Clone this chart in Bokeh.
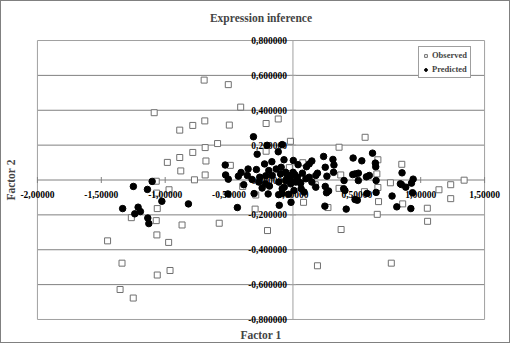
import math
from bokeh.plotting import figure
from bokeh.models import Range1d, LinearAxis, FixedTicker, LabelSet, ColumnDataSource
from bokeh.embed import file_html
from bokeh.resources import INLINE

title_text = "Expression inference"
x_label = "Factor 1"
y_label = "Factor 2"
series_names = ["Observed", "Predicted"]

x_ticks = [-2.0, -1.5, -1.0, -0.5, 0.0, 0.5, 1.0, 1.5]
x_tick_labels = ["-2,00000", "-1,50000", "-1,00000", "-0,50000", "0,00000", "0,50000", "1,00000", "1,50000"]
y_ticks = [-0.8, -0.6, -0.4, -0.2, 0.0, 0.2, 0.4, 0.6, 0.8]
y_tick_labels = ["-0,800000", "-0,600000", "-0,400000", "-0,200000", "0,000000", "0,200000", "0,400000", "0,600000", "0,800000"]

obs_x = [-0.695, -0.506, -0.409, -1.086, -0.115, -0.210, -0.690, -0.498, -0.784, -0.886,
         -0.020, 0.565, -0.590, -0.687, 0.361, -0.210, -0.784, -0.886, -0.983, -0.681,
         -0.490, 0.665, 0.852, -0.878, -0.687, -0.028, 0.077, 0.374, 0.657, -1.070,
         -0.771, 0.763, 1.340, 1.235, 1.143, -0.970, -1.067, -0.393, -0.291, 0.175,
         0.361, 0.560, 0.665, 1.235, 0.083, 0.670, 0.859, 0.274, 1.052, -1.062,
         -0.296, 0.660, -1.265, -1.070, 1.054, -0.868, -0.577, -0.199, 0.377, -1.065,
         -1.451, -0.973, -1.338, 0.770, 0.192, -0.962, -1.062, -1.353, -1.250]
obs_y = [0.573, 0.547, 0.418, 0.386, 0.350, 0.324, 0.339, 0.315, 0.313, 0.286,
         0.222, 0.245, 0.209, 0.186, 0.188, 0.165, 0.158, 0.129, 0.101, 0.109,
         0.084, 0.116, 0.090, 0.052, 0.029, 0.071, 0.099, 0.029, 0.035, -0.007,
         0.001, -0.016, -0.001, -0.027, -0.056, -0.056, -0.075, -0.037, -0.086, -0.027,
         -0.048, -0.067, -0.043, -0.107, -0.128, -0.124, -0.137, -0.158, -0.162, -0.164,
         -0.167, -0.197, -0.216, -0.233, -0.237, -0.258, -0.248, -0.290, -0.284, -0.315,
         -0.349, -0.358, -0.477, -0.477, -0.492, -0.519, -0.545, -0.628, -0.677]

pred_x = [-1.249, -1.102, -1.139, -1.026, -1.333, -1.212, -1.238, -1.194, -1.136, -1.128, -0.818,
          -0.309, -0.202, -0.084, -0.280, -0.115, 0.623, 0.240, 0.471, 0.539, 0.313,
          -0.070, 0.003, -0.165, -0.222, -0.530, 0.645, 0.648, 0.321, 0.148, 0.127,
          0.106, 0.040, -0.092, -0.131, -0.189, -0.286, -0.351, -0.406, -0.427, -0.527,
          -0.506, -0.357, -0.320, -0.260, -0.213, -0.162, -0.097, -0.057, -0.031, 0.014,
          0.035, 0.074, 0.127, 0.179, 0.192, 0.253, 0.266, 0.318, 0.486, 0.512,
          0.575, 0.598, 0.400, 0.512, 0.651, 0.854, 0.941, 0.928, 0.883, 0.849,
          0.841, 0.936, 0.923, 0.813, 0.776, 0.651, 0.580, 0.504, 0.486, 0.417,
          0.407, 0.397, 0.279, 0.263, 0.253, 0.250, 0.087, 0.064, 0.061, 0.148,
          -0.015, -0.033, -0.084, -0.112, -0.194, -0.241, -0.304, -0.385, -0.435, -0.509,
          -0.107, -0.184, -0.068, -0.018, 0.022, -0.057, -0.110, -0.215, -0.267, -0.084,
          0.008, 0.179, 0.468, -0.044, -0.018, 0.001, 0.048, 0.101]
pred_y = [-0.037, -0.008, -0.054, -0.122, -0.164, -0.156, -0.194, -0.181, -0.218, -0.250, -0.137,
          0.248, 0.199, 0.203, 0.148, 0.162, 0.154, 0.135, 0.126, 0.110, 0.118,
          0.116, 0.112, 0.105, 0.092, 0.086, 0.097, 0.076, 0.086, 0.109, 0.092,
          0.076, 0.088, 0.073, 0.063, 0.054, 0.060, 0.063, 0.043, 0.022, 0.029,
          0.005, 0.026, 0.003, 0.016, 0.024, 0.026, 0.035, 0.044, 0.026, 0.031,
          0.016, 0.039, 0.016, 0.026, 0.039, 0.073, 0.022, 0.044, 0.035, 0.039,
          0.018, 0.026, -0.003, -0.003, -0.003, 0.041, 0.005, -0.018, -0.041, -0.026,
          -0.022, -0.073, -0.164, -0.154, -0.092, -0.071, -0.077, -0.116, -0.112, -0.167,
          -0.060, -0.050, -0.063, -0.073, -0.037, -0.150, -0.069, -0.050, -0.018, -0.012,
          -0.128, -0.082, -0.078, -0.084, -0.080, -0.046, -0.078, -0.027, -0.158, -0.080,
          -0.145, -0.035, -0.041, -0.022, -0.012, -0.003, -0.012, -0.022, -0.012, -0.050,
          -0.060, -0.041, 0.031, 0.016, 0.007, 0.044, -0.012, 0.007]

FONT = "Liberation Serif"

# data region plus a little padding so edge tick labels are not clipped
xpad = 0.156
ypad = 0.046
W, H = 510, 343
p = figure(width=W, height=H, output_backend="svg", toolbar_location=None,
           x_range=Range1d(x_ticks[0] - xpad, x_ticks[-1] + xpad),
           y_range=Range1d(y_ticks[0] - ypad, y_ticks[-1] + ypad),
           x_axis_type=None, y_axis_type=None,
           min_border_left=16, min_border_right=7, min_border_top=31, min_border_bottom=17,
           title=title_text)
p.styles = {"border": "1px solid #808080"}
p.title.align = "center"
p.title.text_font = FONT
p.title.text_font_style = "bold"
p.title.text_font_size = "11.5px"
p.title.standoff = 17
p.outline_line_color = None
p.background_fill_color = "white"
p.border_fill_color = "white"
p.xgrid.visible = False
p.ygrid.visible = False

# horizontal gridlines
inner_y = y_ticks[1:-1]
p.segment(x0=[x_ticks[0]] * len(inner_y), x1=[x_ticks[-1]] * len(inner_y),
          y0=inner_y, y1=inner_y, line_color="#808080", line_width=1)
# plot area border
p.quad(left=[x_ticks[0]], right=[x_ticks[-1]], bottom=[y_ticks[0]], top=[y_ticks[-1]],
       fill_color=None, line_color="#a0a0a0", line_width=1)
# vertical axis line at x = 0
p.segment(x0=[0.0], x1=[0.0], y0=[y_ticks[0]], y1=[y_ticks[-1]], line_color="#a0a0a0", line_width=1)
# tick marks
p.scatter(x_ticks, [0.0] * len(x_ticks), marker="dash", angle=math.pi / 2, size=6,
          line_color="#808080", line_width=1)
p.scatter([0.0] * len(y_ticks), y_ticks, marker="dash", size=6,
          line_color="#a0a0a0", line_width=1)

xlab = LinearAxis(axis_label=x_label, ticker=FixedTicker(ticks=[], minor_ticks=[]),
                  axis_line_color=None, major_tick_line_color=None, minor_tick_line_color=None,
                  major_tick_out=0, major_tick_in=0, major_label_standoff=0,
                  axis_label_standoff=1, axis_label_text_font=FONT,
                  axis_label_text_font_style="bold", axis_label_text_font_size="11.5px")
p.add_layout(xlab, "below")

ylab = LinearAxis(axis_label=y_label, ticker=FixedTicker(ticks=[], minor_ticks=[]),
                  axis_line_color=None, major_tick_line_color=None, minor_tick_line_color=None,
                  major_tick_out=0, major_tick_in=0, major_label_standoff=0,
                  axis_label_standoff=1, axis_label_text_font=FONT,
                  axis_label_text_font_style="bold", axis_label_text_font_size="11.5px")
p.add_layout(ylab, "left")

p.scatter(obs_x, obs_y, marker="square", size=6, fill_color="white",
          line_color="#707070", line_width=1, legend_label=series_names[0])
p.scatter(pred_x, pred_y, marker="circle", size=6.5, fill_color="black",
          line_color="black", legend_label=series_names[1])

xsrc = ColumnDataSource(dict(x=x_ticks, y=[0.0] * len(x_ticks), text=x_tick_labels))
ysrc = ColumnDataSource(dict(x=[0.0] * len(y_ticks), y=y_ticks, text=y_tick_labels))
p.add_layout(LabelSet(x="x", y="y", text="text", source=xsrc, y_offset=-14,
                      text_align="center", text_baseline="middle",
                      text_font=FONT, text_font_style="bold", text_font_size="9.5px",
                      text_color="black"))
p.add_layout(LabelSet(x="x", y="y", text="text", source=ysrc, x_offset=-6,
                      text_align="right", text_baseline="middle",
                      text_font=FONT, text_font_style="bold", text_font_size="9.5px",
                      text_color="black"))

lg = p.legend[0]
lg.location = (401, 249)
lg.label_text_font = FONT
lg.label_text_font_style = "bold"
lg.label_text_font_size = "8.5px"
lg.label_height = 9
lg.glyph_height = 9
lg.glyph_width = 7
lg.label_standoff = 3
lg.spacing = 4
lg.padding = 3
lg.margin = 0
lg.border_line_color = "#404040"
lg.border_line_width = 1
lg.background_fill_alpha = 1

open("out.html", "w").write(file_html(p, INLINE))
